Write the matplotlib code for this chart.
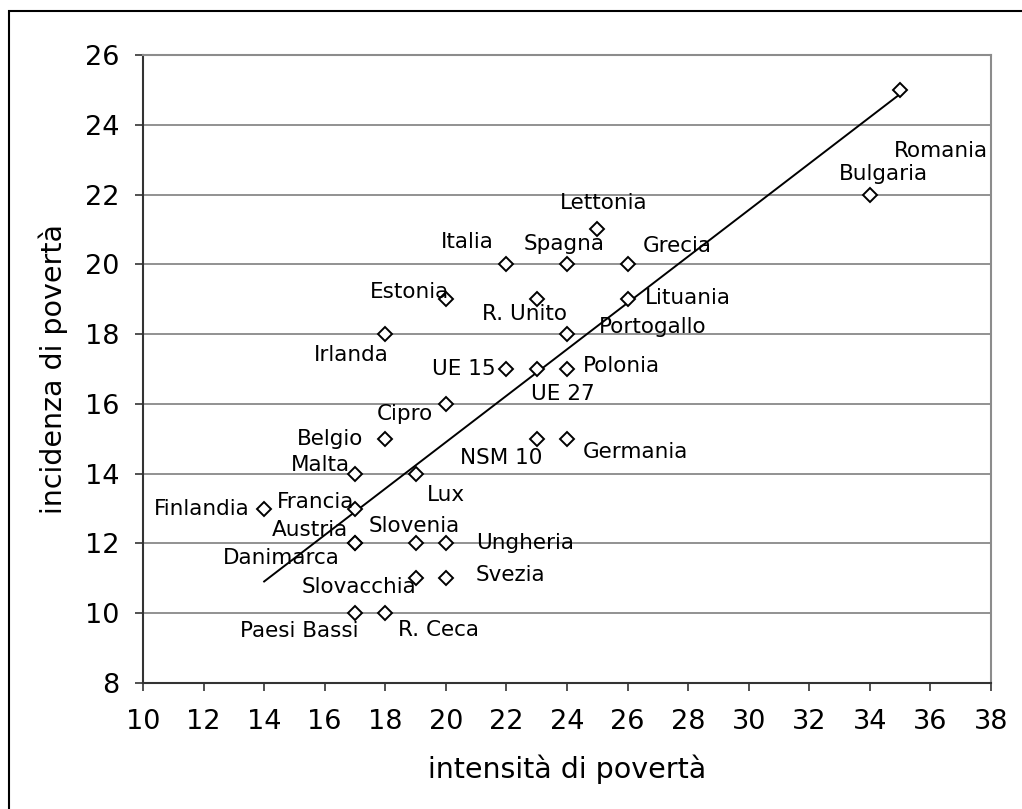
import numpy as np
import matplotlib
matplotlib.use("Agg")
import matplotlib.pyplot as plt
from matplotlib.patches import Rectangle

countries = ["Romania", "Bulgaria", "Lettonia", "Italia", "Spagna", "Grecia",
             "Estonia", "R. Unito", "Lituania", "Irlanda", "Portogallo",
             "UE 15", "UE 27", "Polonia", "Cipro", "Belgio", "NSM 10",
             "Germania", "Malta", "Lux", "Finlandia", "Francia", "Austria",
             "Danimarca", "Slovenia", "Ungheria", "Slovacchia", "Svezia",
             "Paesi Bassi", "R. Ceca"]
intensita = [35, 34, 25, 22, 24, 26, 20, 23, 26, 18, 24, 22, 23, 24, 20, 18,
             23, 24, 17, 19, 14, 17, 17, 17, 19, 20, 19, 20, 17, 18]
incidenza = [25, 22, 21, 20, 20, 20, 19, 19, 19, 18, 18, 17, 17, 17, 16, 15,
             15, 15, 14, 14, 13, 13, 12, 12, 12, 12, 11, 11, 10, 10]
x_ticks = list(range(10, 39, 2))
y_ticks = list(range(8, 27, 2))

# label offsets in pixels (layout)
label_offsets = {
    "Romania": (41, -61), "Bulgaria": (14, 21), "Lettonia": (6, 26),
    "Italia": (-39, 22), "Spagna": (-3, 20), "Grecia": (50, 18),
    "Estonia": (-36, 7), "R. Unito": (-12, -15), "Lituania": (60, 1),
    "Irlanda": (-34, -21), "Portogallo": (86, 7), "UE 15": (-43, 0),
    "UE 27": (26, -25), "Polonia": (54, 3), "Cipro": (-41, -10),
    "Belgio": (-55, 0), "NSM 10": (-36, -19), "Germania": (68, -13),
    "Malta": (-35, 9), "Lux": (30, -21), "Finlandia": (-62, 0),
    "Francia": (-39, 7), "Austria": (-45, 13), "Danimarca": (-74, -15),
    "Slovenia": (-1, 17), "Ungheria": (79, 0), "Slovacchia": (-57, -9),
    "Svezia": (65, 3), "Paesi Bassi": (-56, -18), "R. Ceca": (53, -17),
}

W, H = 1022, 809
fig = plt.figure(figsize=(W / 100, H / 100), dpi=100)
ax = fig.add_axes([143 / W, 1 - 683 / H, (991 - 143) / W, (683 - 55) / H])

x = np.array(intensita, dtype=float)
y = np.array(incidenza, dtype=float)

# trend line
k, b = np.polyfit(x, y, 1)
xl = np.array([x.min(), x.max()])
ax.plot(xl, k * xl + b, color="black", lw=1.4, zorder=3)

ax.plot(x, y, linestyle="none", marker="D", markersize=7.5,
        markerfacecolor="white", markeredgecolor="black", markeredgewidth=1.4,
        zorder=4)

for name, xi, yi in zip(countries, intensita, incidenza):
    dx, dy = label_offsets[name]
    ax.annotate(name, (xi, yi), xytext=(dx, dy), textcoords="offset pixels",
                ha="center", va="center", fontsize=15.5, color="black",
                zorder=5)

ax.set_xlim(10, 38)
ax.set_ylim(8, 26)
ax.set_xticks(x_ticks)
ax.set_yticks(y_ticks)
ax.tick_params(axis="both", labelsize=19.5, direction="out", length=6,
               width=1.2, color="#333333")
ax.tick_params(axis="x", pad=13)
ax.tick_params(axis="y", pad=11)
ax.yaxis.grid(True, color="#7f7f7f", lw=1.2)
ax.set_axisbelow(True)
for side in ["left", "bottom"]:
    ax.spines[side].set_color("#333333")
    ax.spines[side].set_linewidth(1.5)
for side in ["top", "right"]:
    ax.spines[side].set_color("#8c8c8c")
    ax.spines[side].set_linewidth(1.5)

ax.set_xlabel("intensità di povertà", fontsize=20.5, labelpad=14)
ax.set_ylabel("incidenza di povertà", fontsize=20.5, labelpad=12)

fig.patches.append(Rectangle((9 / W, -0.1), 1.2, 1 - 11 / H + 0.1,
                             transform=fig.transFigure, fill=False,
                             edgecolor="black", lw=1.5))

fig.savefig("out.png", dpi=100)
